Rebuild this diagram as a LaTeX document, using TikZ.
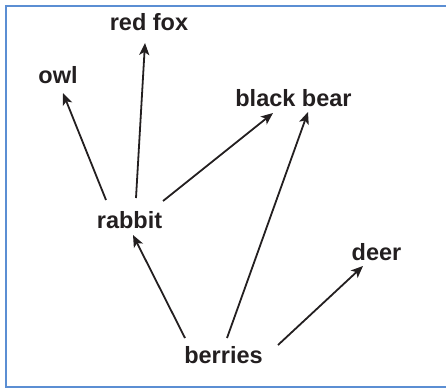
\documentclass[tikz,border=0pt]{standalone}
\usepackage{fontspec}
\setmainfont{Liberation Sans}
\usetikzlibrary{arrows.meta,calc}
\definecolor{frameblue}{HTML}{5B8ED3}
\definecolor{ink}{HTML}{231F20}
\begin{document}
\begin{tikzpicture}[x=1pt,y=-1pt,
  lbl/.style={anchor=base,inner sep=0pt,text=ink,font=\fontsize{23.5}{28}\selectfont\bfseries},
  link/.style={draw=ink,line width=1.8pt,-{Stealth[length=12pt,width=10pt,inset=3pt]}}]
\useasboundingbox (0,0) rectangle (446,388);
\draw[frameblue,line width=2pt] (447,5.5) -- (5.5,5.5) -- (5.5,386.5) -- (447,386.5);
\node[lbl] (redfox) at (149,30) {red fox};
\node[lbl] (owl) at (58,83) {owl};
\node[lbl] (bear) at (293.5,106) {black bear};
\node[lbl] (rabbit) at (129.5,228) {rabbit};
\node[lbl] (deer) at (376.5,260) {deer};
\node[lbl] (berries) at (223.5,363) {berries};
\draw[link] ($(rabbit.base)+(-23.5,-28)$) -- ($(owl.base)+(5,10)$);
\draw[link] ($(rabbit.base)+(6.5,-30)$) -- ($(redfox.base)+(-4,13)$);
\draw[link] ($(rabbit.base)+(33.5,-27)$) -- ($(bear.base)+(-20.5,7)$);
\draw[link] ($(berries.base)+(-38.5,-25)$) -- ($(rabbit.base)+(3.5,7)$);
\draw[link] ($(berries.base)+(3.5,-25)$) -- ($(bear.base)+(14.5,6)$);
\draw[link] ($(berries.base)+(54.5,-18)$) -- ($(deer.base)+(-13.5,6)$);
\end{tikzpicture}
\end{document}
